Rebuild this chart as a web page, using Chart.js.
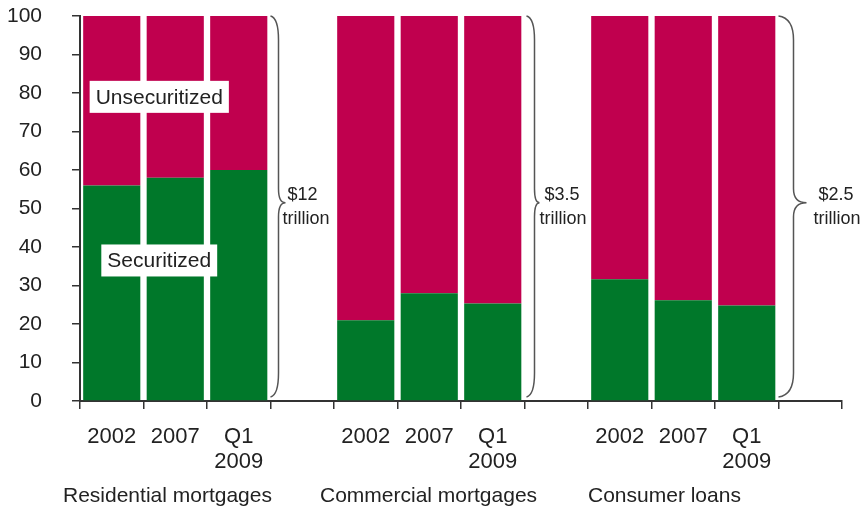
<!DOCTYPE html>
<html>
<head>
<meta charset="utf-8">
<script src="https://cdn.jsdelivr.net/npm/chart.js@4.4.1/dist/chart.umd.min.js"></script>
<style>
  body { margin: 0; background: #fff; }
  canvas { display: block; }
</style>
</head>
<body>
<canvas id="myChart" width="860" height="510"></canvas>
<script>
// categories: 3 bars per group + one empty slot after each group
var categorias = ["2002", "2007", ["Q1", "2009"], "",
                  "2002", "2007", ["Q1", "2009"], "",
                  "2002", "2007", ["Q1", "2009"], ""];
var securitizado   = [56, 58, 60, null, 21, 28, 25.3, null, 31.6, 26.2, 24.8, null];
var noSecuritizado = [44, 42, 40, null, 79, 72, 74.7, null, 68.4, 73.8, 75.2, null];
var grupos = ["Residential mortgages", "Commercial mortgages", "Consumer loans"];
var totales = ["$12", "$3.5", "$2.5"];
var ticksY = [0, 10, 20, 30, 40, 50, 60, 70, 80, 90, 100];

var FUENTE = "'Liberation Sans', Arial, sans-serif";
var TINTA = "#222";

//! llaves, textos de totales, grupos y etiquetas de series
const extras = {
  id: "extras",
  afterDraw(chart) {
    const ctx = chart.ctx;
    const x = chart.scales.x;
    const y = chart.scales.y;
    const arriba = y.getPixelForValue(100);
    const abajo = y.getPixelForValue(0) - 4;
    const medio = y.getPixelForValue(51.5);
    const ancho = x.getPixelForValue(1) - x.getPixelForValue(0);

    // [index of empty slot, end offset, vertical offset, tip offset, text offset]
    const llaves = [[3, 0, 8, 15, 17], [7, 2, 10, 15, 20], [11, 0, 15, 28, 40]];
    ctx.save();
    ctx.strokeStyle = "#555";
    ctx.lineWidth = 1.5;
    llaves.forEach(function (l, i) {
      const base = x.getPixelForValue(l[0]) - ancho / 2;
      const xe = base + l[1], xv = base + l[2], xt = base + l[3];
      ctx.beginPath();
      ctx.moveTo(xe, arriba);
      ctx.quadraticCurveTo(xv, arriba + 2, xv, arriba + 24);
      ctx.lineTo(xv, medio - 14);
      ctx.quadraticCurveTo(xv, medio, xt, medio);
      ctx.quadraticCurveTo(xv, medio, xv, medio + 14);
      ctx.lineTo(xv, abajo - 24);
      ctx.quadraticCurveTo(xv, abajo - 2, xe, abajo);
      ctx.stroke();

      ctx.fillStyle = TINTA;
      ctx.font = "18px " + FUENTE;
      ctx.textAlign = "left";
      ctx.textBaseline = "middle";
      ctx.fillText(totales[i], base + l[4], medio - 8);
      ctx.fillText("trillion", base + l[4] - 5, medio + 16);
    });

    // nombres de grupo
    const corrida = [-17, -14, 0];
    ctx.font = "21px " + FUENTE;
    ctx.fillStyle = TINTA;
    ctx.textAlign = "left";
    ctx.textBaseline = "middle";
    grupos.forEach(function (g, i) {
      const izq = x.getPixelForValue(i * 4) - ancho / 2;
      ctx.fillText(g, izq + corrida[i], 496);
    });

    // etiquetas de series en cajas blancas
    const cajas = [["Unsecuritized", 79], ["Securitized", 36.5]];
    cajas.forEach(function (c) {
      const cx = x.getPixelForValue(1) - 16;
      const cy = y.getPixelForValue(c[1]);
      ctx.font = "21px " + FUENTE;
      const w = ctx.measureText(c[0]).width + 12;
      ctx.fillStyle = "#fff";
      ctx.fillRect(cx - w / 2, cy - 16, w, 32);
      ctx.fillStyle = TINTA;
      ctx.textAlign = "center";
      ctx.fillText(c[0], cx, cy + 1);
    });
    ctx.restore();
  }
};

const data = {
  labels: categorias,
  datasets: [
    {
      label: "Securitized",
      data: securitizado,
      backgroundColor: "#00782A",
      barPercentage: 0.9,
      categoryPercentage: 1.0
    },
    {
      label: "Unsecuritized",
      data: noSecuritizado,
      backgroundColor: "#C0004E",
      barPercentage: 0.9,
      categoryPercentage: 1.0
    }
  ]
};

const config = {
  type: "bar",
  data: data,
  options: {
    responsive: false,
    animation: false,
    layout: { padding: { top: 16, right: 18, left: 0, bottom: 0 } },
    plugins: {
      legend: { display: false },
      tooltip: { enabled: false }
    },
    scales: {
      x: {
        stacked: true,
        offset: true,
        grid: {
          offset: true,
          drawOnChartArea: false,
          drawTicks: true,
          tickLength: 8,
          color: "#333",
          lineWidth: 1.5
        },
        border: { display: true, color: "#333", width: 2 },
        ticks: {
          color: TINTA,
          font: { family: FUENTE, size: 22, lineHeight: 1.15 },
          padding: 15,
          maxRotation: 0,
          autoSkip: false
        },
        afterFit(scale) { scale.height = 109; }
      },
      y: {
        stacked: true,
        min: 0,
        max: 100,
        afterBuildTicks(scale) {
          scale.ticks = ticksY.map(function (v) { return { value: v }; });
        },
        grid: {
          drawOnChartArea: false,
          drawTicks: true,
          tickLength: 8,
          color: "#333",
          lineWidth: 1.5
        },
        border: { display: true, color: "#333", width: 2 },
        ticks: {
          color: TINTA,
          font: { family: FUENTE, size: 21 },
          padding: 30
        },
        afterFit(scale) {
          scale.width = 80;
          scale.paddingTop = 0;
          scale.paddingBottom = 0;
        }
      }
    }
  },
  plugins: [extras]
};

const myChart = new Chart(document.getElementById("myChart"), config);
</script>
</body>
</html>
